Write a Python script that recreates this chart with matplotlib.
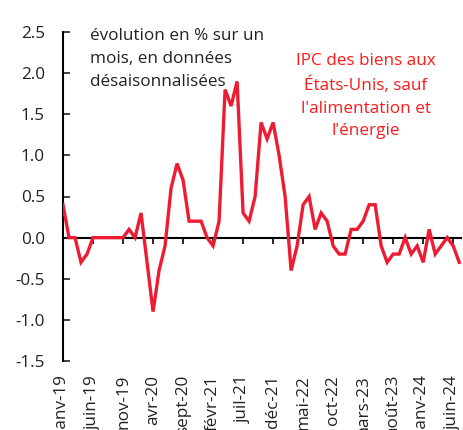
import matplotlib
matplotlib.use("Agg")
import matplotlib.pyplot as plt
from matplotlib.ticker import FormatStrFormatter, MultipleLocator

plt.rcParams['font.family'] = ['Open Sans', 'DejaVu Sans']
plt.rcParams['axes.unicode_minus'] = False

# ===== DATA =====
# monthly change in %, janv-19 .. juil-24
values = [
    0.4, 0.0, 0.0, -0.3, -0.2, 0.0, 0.0, 0.0, 0.0, 0.0, 0.0, 0.1,   # 2019
    0.0, 0.3, -0.3, -0.9, -0.4, -0.1, 0.6, 0.9, 0.7, 0.2, 0.2, 0.2,  # 2020
    0.0, -0.1, 0.2, 1.8, 1.6, 1.9, 0.3, 0.2, 0.5, 1.4, 1.2, 1.4,     # 2021
    1.0, 0.5, -0.4, -0.1, 0.4, 0.5, 0.1, 0.3, 0.2, -0.1, -0.2, -0.2, # 2022
    0.1, 0.1, 0.2, 0.4, 0.4, -0.1, -0.3, -0.2, -0.2, 0.0, -0.2, -0.1,# 2023
    -0.3, 0.1, -0.2, -0.1, 0.0, -0.1, -0.3,                          # 2024
]
tick_labels = ["janv-19", "juin-19", "nov-19", "avr-20", "sept-20", "févr-21",
               "juil-21", "déc-21", "mai-22", "oct-22", "mars-23", "août-23",
               "janv-24", "juin-24"]
tick_step = 5

RED = "#EE1C33"
FS = 12.3

# ===== DRAW =====
fig = plt.figure(figsize=(4.63, 4.30), dpi=100)
ax = fig.add_axes([63 / 463, 1 - 361 / 430, 398 / 463, 329 / 430])

x = list(range(len(values)))
ax.plot(x, values, color=RED, lw=2.4, solid_joinstyle="miter", zorder=3)

ax.set_xlim(0, len(values) - 1 + 0.3)
ax.set_ylim(-1.5, 2.5)

# y axis
ax.yaxis.set_major_locator(MultipleLocator(0.5))
ax.yaxis.set_major_formatter(FormatStrFormatter('%.1f'))
ax.tick_params(axis='y', direction='in', length=5, width=1.2, pad=13,
               labelsize=FS, colors="#222222")
ax.spines['left'].set_linewidth(1.5)
for s in ['top', 'right', 'bottom']:
    ax.spines[s].set_visible(False)

# bottom tick labels (clipped by figure edge like the original)
xt = list(range(0, len(values), tick_step))
ax.set_xticks(xt)
ax.set_xticklabels(tick_labels, rotation=90, fontsize=FS, color="#222222")
ax.tick_params(axis='x', length=0, pad=10)

# zero line with ticks below it
zero = ax.secondary_xaxis(1.5 / 4.0)
zero.set_xticks(xt)
zero.set_xticklabels([])
zero.tick_params(direction='out', length=4, width=1.2)
zero.spines['bottom'].set_linewidth(1.5)

# ===== TEXT =====
fig.text(90 / 463, 1 - 28 / 430,
         "évolution en % sur un\nmois, en données\ndésaisonnalisées",
         ha='left', va='top', fontsize=FS, color="#222222", linespacing=1.58)
fig.text(366 / 463, 1 - 53 / 430,
         "IPC des biens aux\nÉtats-Unis, sauf\nl'alimentation et\nl'énergie",
         ha='center', va='top', fontsize=FS, color="#FF1A1A", linespacing=1.55)

fig.savefig("out.png", dpi=100)
